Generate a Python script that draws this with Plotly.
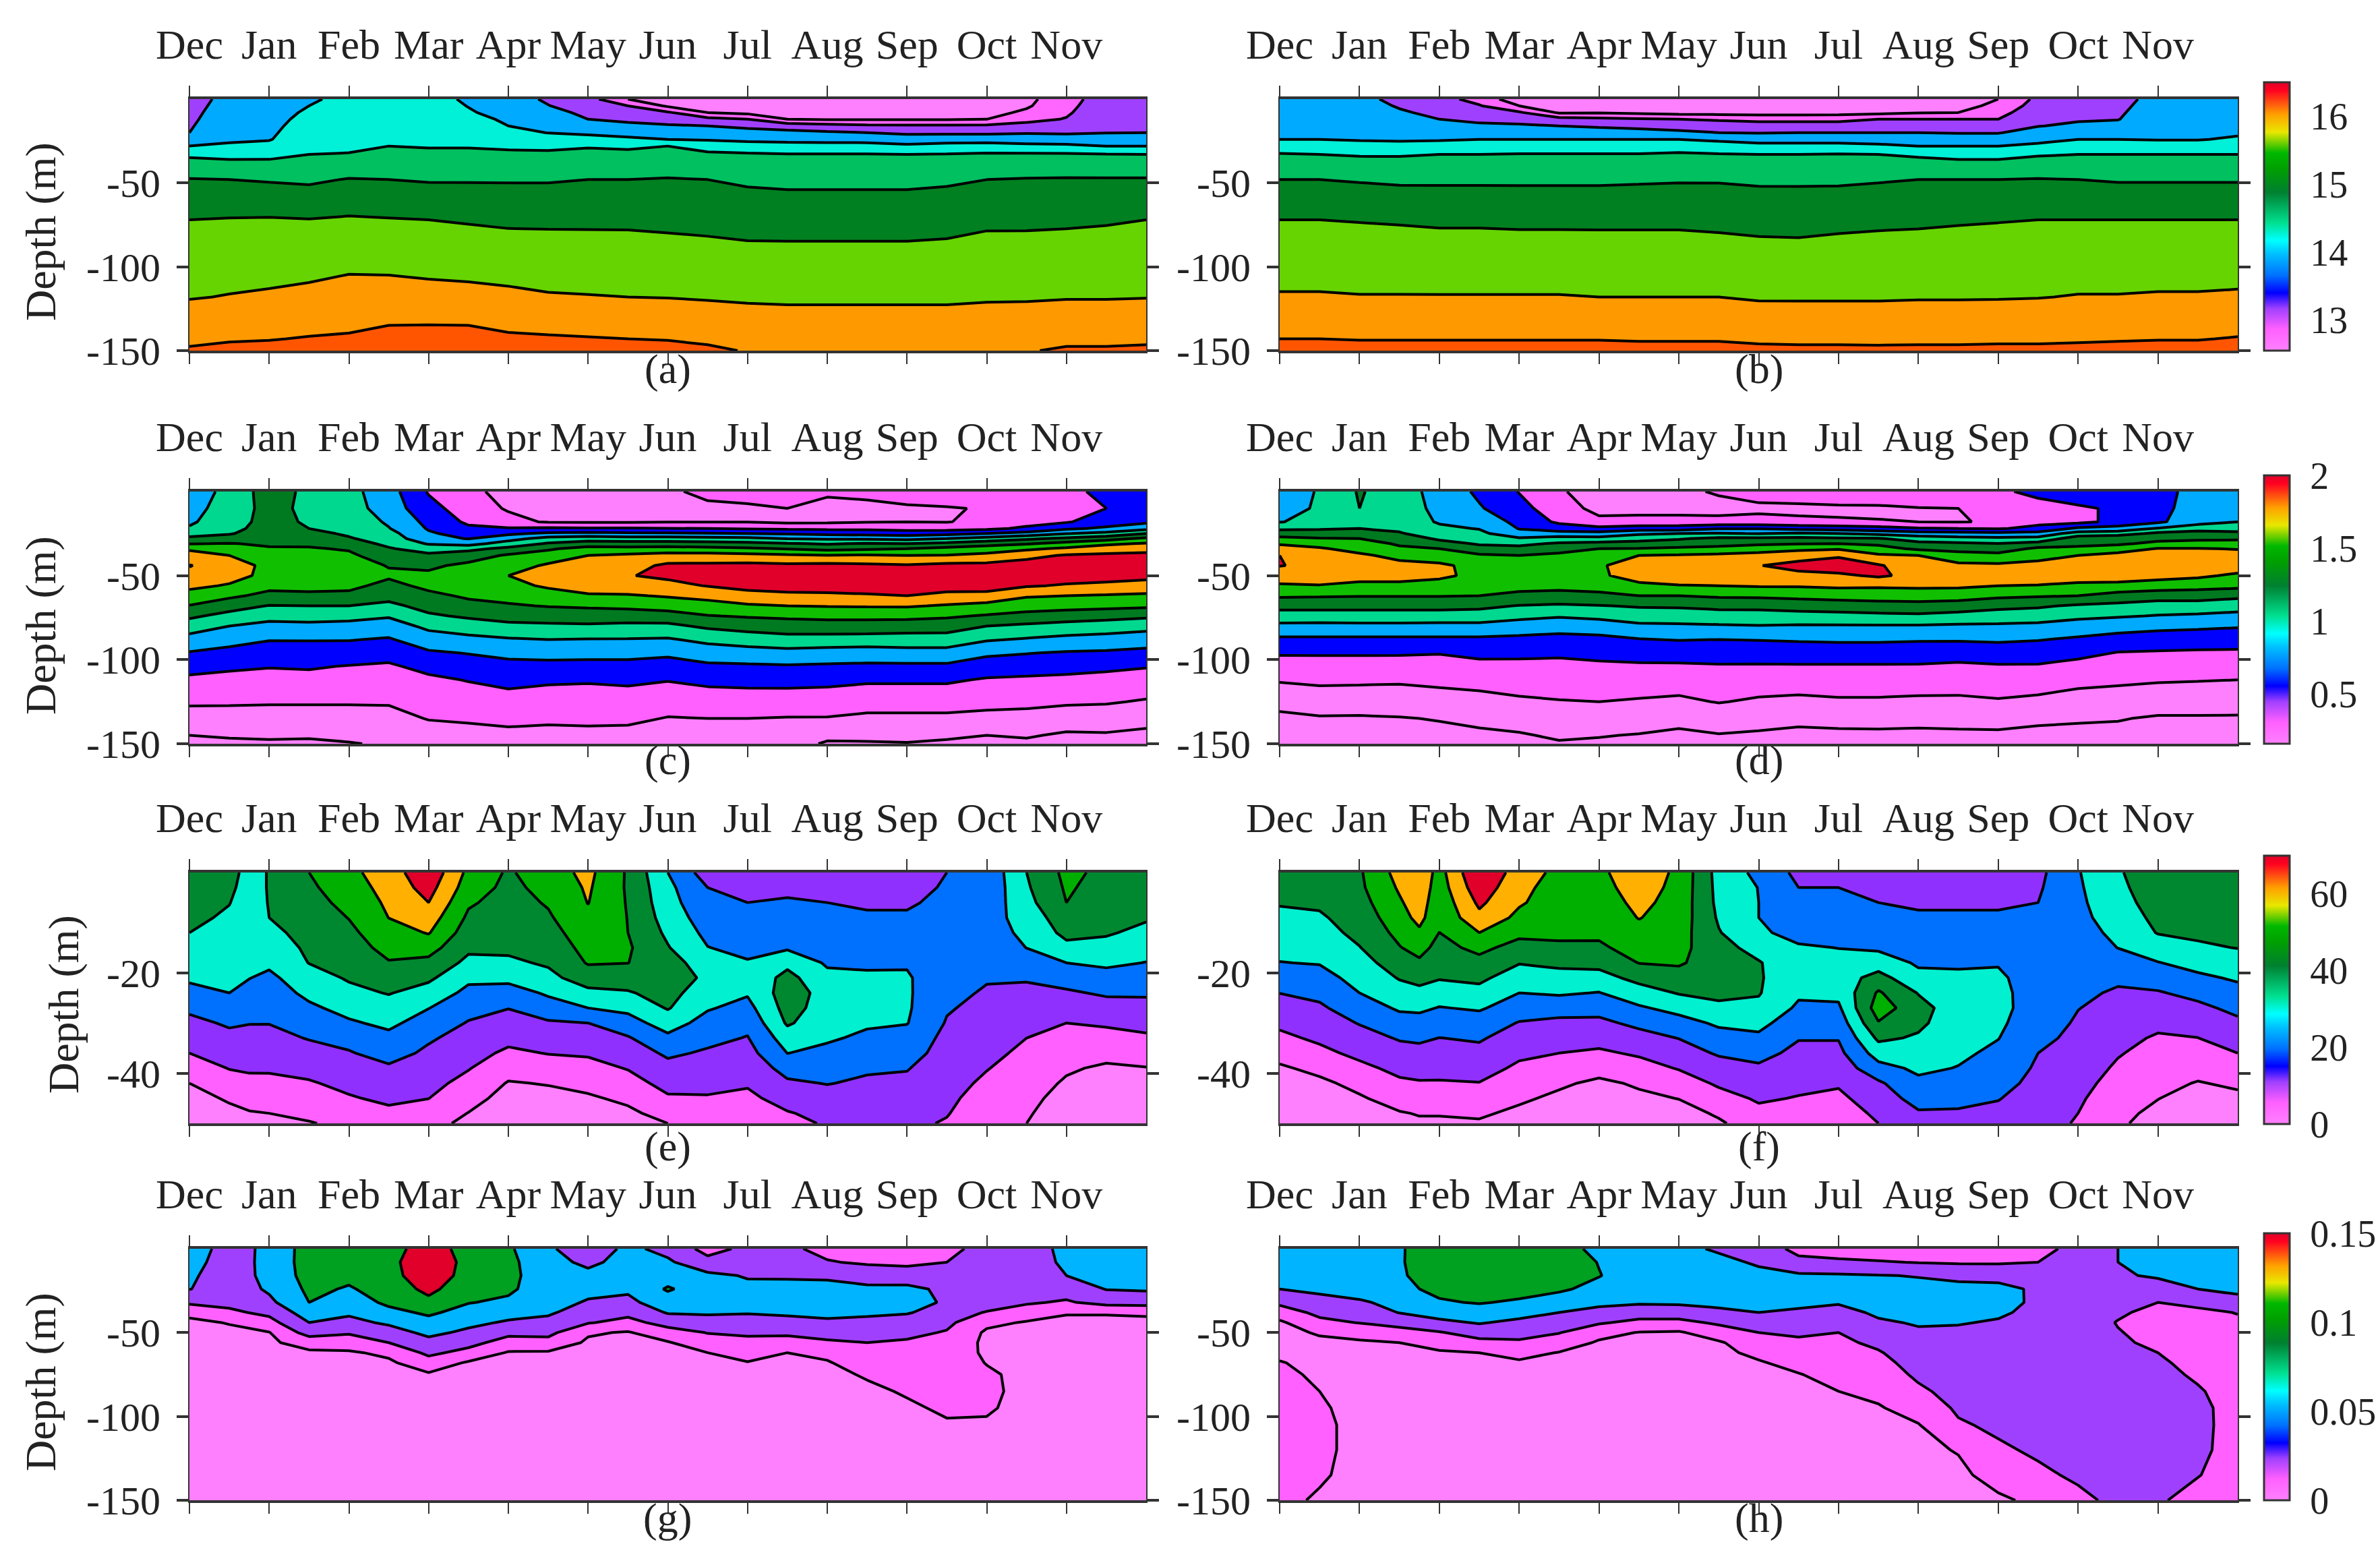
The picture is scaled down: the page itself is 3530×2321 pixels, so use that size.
import numpy as np
import plotly.graph_objects as go

W, H = 3530, 2321
MONTHS = ["Dec", "Jan", "Feb", "Mar", "Apr", "May", "Jun", "Jul", "Aug", "Sep", "Oct", "Nov"]
X_HALF = [0, .5, 1, 1.5, 2, 2.5, 3, 3.5, 4, 4.5, 5, 5.5, 6, 6.5, 7, 7.5, 8, 8.5, 9, 9.5, 10, 10.5, 11, 11.5, 12]
X_E = [0, .5, .75, 1, 1.5, 2, 2.5, 3, 3.5, 4, 4.5, 5, 5.5, 6, 6.5, 7, 7.5, 8, 8.5, 9, 9.5, 10, 10.5, 11, 11.5, 12]
X_F = [0, .5, 1, 1.5, 1.75, 2, 2.5, 3, 3.5, 4, 4.5, 5, 5.5, 6, 6.5, 7, 7.5, 8, 8.5, 9, 9.5, 10, 10.5, 11, 11.5, 12]

DEPTH_AB = [0, -4, -8, -12, -16, -20, -24, -28, -33, -48, -72, -118, -143, -150]
DEPTH_CD = [0, -10, -18, -22, -25, -28, -31, -34, -38, -44, -50, -56, -62, -68, -74, -80, -88, -96, -104, -112, -125, -135, -145, -150]
DEPTH_EF = [0, -3, -6, -9, -12, -15, -18, -21, -24, -27, -30, -33, -36, -39, -42, -45, -48, -50]
DEPTH_G = [0, -8, -16, -24, -32, -38, -44, -50, -56, -62, -68, -75, -85, -95, -105, -120, -150]
DEPTH_H = [0, -8, -16, -24, -32, -38, -44, -50, -56, -62, -68, -75, -85, -95, -105, -120, -135, -150]

# Panel (a): near-surface part by column, then deep rows
A_TOP = [
 [13.5,13.54,13.58,13.62,13.66,13.7,13.9,14.1,14.44],
 [13.85,13.89,13.93,13.96,14.0,14.03,14.07,14.13,14.4],
 [13.95,13.97,13.99,14.01,14.03,14.05,14.08,14.19,14.41],
 [14.05,14.1,14.14,14.18,14.22,14.27,14.32,14.38,14.5],
 [14.2,14.22,14.24,14.26,14.29,14.33,14.37,14.42,14.52],
 [14.25,14.27,14.29,14.32,14.35,14.39,14.44,14.5,14.62],
 [14.22,14.24,14.27,14.3,14.33,14.37,14.42,14.47,14.6],
 [14.05,14.09,14.13,14.2,14.27,14.34,14.41,14.47,14.6],
 [13.85,13.92,13.99,14.05,14.1,14.22,14.33,14.44,14.57],
 [13.65,13.71,13.81,13.9,13.99,14.09,14.25,14.42,14.57],
 [13.45,13.53,13.62,13.7,13.87,14.03,14.24,14.47,14.6],
 [12.9,13.3,13.46,13.62,13.79,13.97,14.17,14.43,14.6],
 [12.6,12.84,13.35,13.55,13.74,13.92,14.1,14.5,14.62],
 [12.5,12.7,12.9,13.43,13.7,13.88,14.06,14.34,14.57],
 [12.45,12.63,12.8,13.3,13.62,13.84,14.02,14.26,14.55],
 [12.4,12.57,12.73,12.9,13.54,13.8,14.0,14.23,14.52],
 [12.4,12.56,12.72,12.86,13.46,13.75,13.98,14.23,14.52],
 [12.4,12.55,12.71,12.86,13.38,13.7,13.97,14.23,14.52],
 [12.4,12.55,12.71,12.86,13.37,13.63,13.9,14.17,14.5],
 [12.45,12.6,12.74,12.87,13.37,13.63,13.94,14.23,14.52],
 [12.5,12.63,12.77,12.9,13.37,13.63,13.94,14.26,14.55],
 [12.8,12.85,12.97,13.2,13.41,13.67,13.9,14.2,14.55],
 [13.15,13.2,13.25,13.32,13.45,13.65,13.9,14.17,14.55],
 [13.5,13.53,13.57,13.61,13.65,13.69,13.9,14.1,14.52],
 [13.55,13.58,13.61,13.64,13.67,13.7,13.9,14.1,14.5],
]
A_48 = [14.92,14.90,14.87,14.84,14.92,14.90,14.87,14.87,14.87,14.87,14.90,14.90,14.92,14.90,14.84,14.81,14.81,14.81,14.81,14.84,14.90,14.92,14.93,14.93,14.93]
A_72 = [15.30,15.32,15.33,15.31,15.34,15.32,15.30,15.27,15.24,15.24,15.24,15.24,15.22,15.20,15.17,15.17,15.17,15.17,15.17,15.19,15.24,15.24,15.25,15.27,15.30]
A_118 = [15.68,15.715,15.745,15.79,15.85,15.85,15.82,15.805,15.775,15.73,15.715,15.70,15.69,15.67,15.65,15.64,15.64,15.64,15.64,15.64,15.66,15.665,15.68,15.68,15.69]
A_143 = [16.03,16.07,16.085,16.12,16.14,16.22,16.24,16.24,16.16,16.14,16.12,16.10,16.085,16.04,15.98,15.965,15.965,15.965,15.965,15.965,15.98,15.98,16.03,16.03,16.04]
A_150 = [16.14,16.18,16.2,16.24,16.26,16.34,16.36,16.36,16.28,16.26,16.24,16.22,16.2,16.16,16.08,16.07,16.07,16.07,16.07,16.07,16.08,16.08,16.14,16.14,16.16]

# Panel (b)
B_TOP = [
 [13.85,13.89,13.93,13.97,14.01,14.05,14.1,14.3,14.53],
 [13.85,13.89,13.93,13.97,14.01,14.05,14.1,14.3,14.5],
 [13.8,13.84,13.88,13.92,13.96,14.0,14.06,14.28,14.47],
 [13.6,13.67,13.74,13.8,13.87,13.94,14.05,14.22,14.47],
 [13.45,13.53,13.62,13.7,13.8,13.9,14.06,14.28,14.5],
 [13.15,13.33,13.46,13.6,13.78,13.9,14.1,14.3,14.5],
 [12.65,12.9,13.35,13.57,13.75,13.92,14.1,14.3,14.52],
 [12.55,12.7,12.85,13.45,13.7,13.9,14.1,14.3,14.52],
 [12.5,12.7,12.87,13.4,13.65,13.87,14.1,14.3,14.52],
 [12.5,12.65,12.82,13.35,13.6,13.83,14.1,14.3,14.52],
 [12.45,12.6,12.76,13.3,13.53,13.78,14.1,14.33,14.55],
 [12.45,12.6,12.75,13.25,13.5,13.7,14.03,14.27,14.52],
 [12.4,12.55,12.72,13.2,13.47,13.68,13.97,14.2,14.5],
 [12.4,12.55,12.72,13.2,13.47,13.7,13.97,14.2,14.5],
 [12.4,12.57,12.75,13.2,13.47,13.7,13.97,14.2,14.52],
 [12.45,12.62,12.8,13.3,13.5,13.7,13.93,14.17,14.5],
 [12.5,12.68,12.87,13.3,13.5,13.7,13.9,14.1,14.45],
 [12.55,12.72,12.9,13.3,13.48,13.68,13.9,14.1,14.4],
 [12.9,13.03,13.17,13.3,13.48,13.68,13.9,14.1,14.4],
 [13.4,13.47,13.55,13.62,13.69,13.85,14.0,14.17,14.47],
 [13.45,13.52,13.59,13.67,13.75,13.92,14.1,14.28,14.5],
 [13.6,13.63,13.66,13.69,13.78,13.9,14.1,14.28,14.5],
 [13.8,13.83,13.86,13.89,13.92,13.97,14.08,14.26,14.5],
 [13.85,13.87,13.9,13.93,13.96,14.0,14.08,14.26,14.5],
 [13.9,13.93,13.96,13.99,14.02,14.05,14.15,14.3,14.5],
]
B_48 = [14.9,14.9,14.87,14.84,14.84,14.84,14.84,14.84,14.84,14.855,14.87,14.87,14.84,14.84,14.84,14.87,14.9,14.9,14.9,14.92,14.9,14.87,14.87,14.87,14.87]
B_72 = [15.3,15.3,15.285,15.27,15.25,15.25,15.24,15.24,15.24,15.24,15.24,15.22,15.2,15.19,15.22,15.24,15.25,15.27,15.285,15.3,15.3,15.3,15.3,15.3,15.3]
B_118 = [15.73,15.73,15.715,15.715,15.715,15.715,15.715,15.715,15.7,15.7,15.7,15.7,15.665,15.665,15.665,15.665,15.675,15.675,15.68,15.69,15.715,15.715,15.73,15.73,15.745]
B_143 = [16.1,16.1,16.085,16.085,16.085,16.085,16.085,16.085,16.085,16.07,16.07,16.07,16.04,16.03,16.03,16.025,16.03,16.03,16.04,16.04,16.055,16.07,16.085,16.085,16.12]
B_150 = [16.24,16.24,16.225,16.225,16.225,16.225,16.225,16.225,16.225,16.21,16.21,16.21,16.18,16.17,16.17,16.165,16.17,16.17,16.18,16.18,16.195,16.21,16.225,16.225,16.26]

PANEL_C = [
 [.85,.9,.95,1.0,1.12,1.25,1.41,1.61,1.72,1.87,1.8,1.69,1.56,1.41,1.24,1.09,.9,.745,.61,.5,.35,.23,.1,.04],
 [1.05,1.08,1.1,1.13,1.18,1.3,1.43,1.52,1.64,1.75,1.72,1.62,1.46,1.29,1.13,.98,.83,.7,.58,.47,.35,.22,.12,.06],
 [1.3,1.27,1.28,1.3,1.33,1.36,1.39,1.44,1.5,1.58,1.58,1.48,1.36,1.19,1.05,.92,.77,.66,.55,.47,.34,.23,.13,.07],
 [1.15,1.15,1.17,1.2,1.26,1.32,1.38,1.44,1.48,1.52,1.53,1.48,1.38,1.2,1.06,.93,.77,.67,.56,.48,.34,.23,.12,.07],
 [1.05,1.08,1.12,1.14,1.17,1.22,1.3,1.4,1.46,1.5,1.5,1.47,1.37,1.2,1.06,.9,.77,.66,.53,.47,.34,.23,.14,.09],
 [.85,.87,.95,.99,1.05,1.1,1.15,1.22,1.3,1.41,1.45,1.36,1.27,1.15,1.0,.88,.74,.62,.51,.44,.34,.25,.16,.12],
 [.52,.62,.7,.74,.79,.83,.96,1.1,1.25,1.38,1.46,1.47,1.37,1.27,1.17,1.03,.88,.73,.6,.5,.42,.33,.22,.17],
 [.35,.42,.5,.58,.67,.75,.9,1.15,1.31,1.47,1.56,1.54,1.45,1.36,1.23,1.1,.92,.77,.65,.55,.43,.35,.24,.2],
 [.28,.3,.38,.56,.72,.9,1.08,1.25,1.45,1.54,1.64,1.58,1.48,1.4,1.28,1.15,.96,.82,.69,.59,.47,.37,.27,.23],
 [.24,.25,.3,.58,.8,1.06,1.22,1.39,1.52,1.67,1.75,1.67,1.55,1.43,1.3,1.16,.98,.83,.7,.57,.44,.35,.27,.23],
 [.22,.23,.3,.56,.82,1.1,1.3,1.5,1.64,1.72,1.8,1.72,1.62,1.45,1.31,1.17,.97,.82,.7,.56,.44,.36,.27,.23],
 [.2,.22,.3,.56,.8,1.08,1.3,1.48,1.68,1.78,1.85,1.76,1.62,1.47,1.31,1.15,.97,.82,.7,.58,.44,.36,.26,.22],
 [.28,.25,.31,.55,.8,1.07,1.3,1.5,1.72,1.9,1.9,1.8,1.66,1.51,1.33,1.15,.96,.8,.67,.55,.41,.31,.25,.21],
 [.38,.27,.31,.54,.78,1.06,1.28,1.48,1.73,1.9,1.95,1.87,1.71,1.55,1.41,1.24,1.03,.87,.72,.59,.43,.32,.24,.2],
 [.45,.27,.31,.52,.76,1.04,1.26,1.45,1.7,1.92,2.0,1.93,1.78,1.61,1.44,1.29,1.08,.89,.73,.6,.44,.32,.24,.2],
 [.5,.32,.28,.5,.74,.97,1.22,1.41,1.67,1.9,2.0,1.95,1.81,1.64,1.46,1.32,1.12,.91,.74,.61,.43,.31,.21,.17],
 [.35,.26,.29,.49,.71,.95,1.18,1.35,1.65,1.92,2.02,1.95,1.82,1.65,1.47,1.34,1.11,.89,.73,.6,.42,.31,.14,.08],
 [.38,.26,.31,.49,.68,.95,1.22,1.39,1.66,1.9,2.0,1.95,1.84,1.66,1.47,1.34,1.1,.88,.72,.57,.4,.28,.15,.08],
 [.46,.28,.32,.46,.66,.92,1.2,1.42,1.64,1.88,1.98,1.93,1.86,1.66,1.48,1.31,1.1,.9,.72,.57,.4,.28,.15,.09],
 [.5,.3,.31,.45,.7,.98,1.26,1.48,1.65,1.92,2.0,1.97,1.79,1.62,1.45,1.3,1.1,.9,.72,.57,.4,.28,.13,.07],
 [.5,.34,.38,.49,.76,1.07,1.34,1.52,1.7,1.92,2.0,1.98,1.77,1.58,1.4,1.2,1.0,.8,.65,.52,.38,.26,.1,.05],
 [.45,.44,.46,.58,.84,1.16,1.4,1.6,1.8,1.95,2.0,1.88,1.66,1.52,1.35,1.16,.96,.77,.62,.51,.37,.25,.12,.06],
 [.5,.5,.52,.72,.97,1.25,1.49,1.68,1.88,1.95,1.95,1.84,1.64,1.5,1.31,1.12,.92,.74,.6,.5,.35,.21,.07,.03],
 [.58,.54,.65,.8,1.05,1.33,1.6,1.75,1.9,1.95,1.93,1.82,1.62,1.48,1.28,1.09,.9,.73,.58,.48,.34,.2,.08,.03],
 [.62,.65,.72,.92,1.2,1.47,1.66,1.78,1.92,1.95,1.92,1.78,1.6,1.46,1.24,1.05,.87,.7,.55,.47,.3,.17,.05,.02],
]

PANEL_D = [
 [.85,.92,.97,1.16,1.32,1.47,1.62,1.72,1.86,1.87,1.72,1.62,1.45,1.27,1.1,.93,.72,.56,.45,.34,.17,.05,.02,.01],
 [1.0,1.0,1.05,1.18,1.28,1.44,1.58,1.66,1.74,1.8,1.75,1.63,1.44,1.27,1.1,.92,.72,.56,.46,.36,.21,.08,.03,.02],
 [1.22,1.2,1.16,1.2,1.3,1.42,1.52,1.58,1.67,1.74,1.7,1.6,1.43,1.27,1.1,.93,.72,.56,.46,.36,.19,.08,.03,.02],
 [1.08,1.08,1.1,1.16,1.22,1.31,1.39,1.46,1.59,1.69,1.7,1.6,1.43,1.27,1.1,.93,.72,.56,.45,.35,.2,.09,.03,.02],
 [.9,.93,.96,1.02,1.08,1.17,1.27,1.42,1.52,1.68,1.67,1.58,1.43,1.27,1.1,.92,.72,.55,.45,.37,.23,.11,.05,.03],
 [.72,.78,.9,.97,1.03,1.1,1.18,1.27,1.45,1.57,1.6,1.53,1.42,1.25,1.1,.92,.72,.59,.48,.38,.26,.15,.06,.03],
 [.53,.62,.7,.75,.84,1.01,1.15,1.27,1.42,1.5,1.54,1.5,1.36,1.19,1.04,.88,.71,.58,.49,.41,.29,.19,.08,.04],
 [.33,.4,.5,.65,.85,1.07,1.23,1.33,1.47,1.56,1.58,1.49,1.34,1.17,1.0,.85,.69,.57,.49,.42,.31,.21,.13,.08],
 [.28,.27,.36,.6,.85,1.05,1.27,1.42,1.5,1.62,1.61,1.52,1.36,1.19,1.03,.88,.7,.6,.5,.42,.32,.22,.11,.07],
 [.27,.26,.38,.65,.95,1.1,1.3,1.43,1.64,1.72,1.72,1.6,1.42,1.22,1.08,.94,.75,.62,.51,.43,.3,.2,.09,.05],
 [.28,.26,.38,.66,.98,1.18,1.31,1.46,1.66,1.74,1.76,1.63,1.42,1.23,1.08,.95,.77,.63,.51,.42,.28,.16,.06,.03],
 [.34,.26,.37,.75,1.0,1.25,1.33,1.5,1.68,1.78,1.78,1.64,1.45,1.26,1.1,.96,.76,.64,.52,.44,.33,.2,.09,.05],
 [.4,.28,.38,.75,.97,1.25,1.38,1.56,1.7,1.85,1.82,1.66,1.46,1.26,1.11,.97,.77,.63,.52,.43,.29,.18,.07,.04],
 [.45,.27,.36,.7,1.02,1.26,1.41,1.6,1.74,1.95,1.79,1.66,1.48,1.29,1.12,.96,.78,.65,.52,.43,.27,.14,.06,.03],
 [.48,.28,.34,.67,.98,1.24,1.42,1.62,1.83,1.98,1.82,1.68,1.5,1.31,1.13,.96,.79,.65,.52,.44,.29,.16,.06,.03],
 [.5,.28,.33,.62,.92,1.22,1.38,1.5,1.67,1.88,1.89,1.67,1.52,1.33,1.15,.96,.79,.65,.52,.44,.29,.15,.07,.03],
 [.52,.31,.32,.56,.87,1.1,1.26,1.38,1.64,1.74,1.8,1.68,1.53,1.34,1.16,.96,.78,.64,.52,.45,.27,.14,.07,.03],
 [.52,.32,.31,.54,.85,1.05,1.24,1.33,1.53,1.68,1.76,1.68,1.5,1.33,1.12,.95,.78,.63,.5,.44,.27,.15,.07,.03],
 [.5,.33,.34,.52,.82,1.03,1.21,1.32,1.48,1.68,1.72,1.64,1.46,1.27,1.08,.95,.79,.65,.52,.44,.3,.16,.07,.03],
 [.6,.45,.48,.6,.84,1.05,1.28,1.46,1.57,1.7,1.75,1.63,1.44,1.23,1.08,.93,.77,.64,.52,.43,.27,.13,.06,.03],
 [.7,.5,.48,.8,1.08,1.32,1.36,1.47,1.64,1.73,1.77,1.58,1.42,1.17,1.03,.88,.73,.6,.47,.38,.23,.12,.05,.03],
 [.7,.58,.6,.85,1.1,1.37,1.38,1.55,1.7,1.8,1.8,1.55,1.35,1.14,1.0,.85,.68,.53,.44,.36,.21,.11,.05,.03],
 [.72,.72,.72,1.0,1.25,1.35,1.48,1.65,1.73,1.8,1.72,1.53,1.3,1.1,.97,.82,.65,.52,.42,.34,.19,.08,.03,.02],
 [.8,.82,.9,1.1,1.3,1.38,1.5,1.65,1.75,1.8,1.68,1.5,1.3,1.1,.95,.8,.64,.51,.42,.33,.19,.08,.03,.02],
 [.92,.94,.98,1.15,1.23,1.38,1.53,1.63,1.72,1.76,1.6,1.48,1.25,1.07,.92,.78,.62,.51,.41,.32,.18,.08,.03,.02],
]

PANEL_E = [
 [46,45,43,41.5,40,37.5,35,33,30,25.5,22,19,16,12,8,5,3,2],
 [43,41.5,40.2,39,37.5,36,35,33.5,32,28.5,25,22,19,16.3,12.7,9,6,4.5],
 [37,37,37,36,35.5,34.5,33.5,32.2,29.5,26.8,24.2,22,19.5,17,14,10.5,7.5,6],
 [40.5,40.5,40.3,40,38,36,33.5,30.3,28,26,24.2,21.8,19.5,17.3,13.5,10,8,6],
 [48,46.7,45.5,44,42.7,41.3,40.2,36.7,33.9,30.6,27.6,24.4,21.3,18.3,15.3,12.4,9.4,7.6],
 [54,52,50,48.2,46.4,44.5,42.8,40.8,38,34.5,31,26.5,23.4,20.4,18,15.3,11.8,9.6],
 [60,59,57.5,56.1,52.5,50.4,47.5,44,40.4,37,33.7,30,27,22.8,20,17.5,14.3,12],
 [70,67,64,60,56.5,51,46,41.4,36.8,32.2,28.5,25,22.5,20.5,18.3,16.1,12.5,10.5],
 [54,52,49,46.6,44,41.5,38,33.6,30,26.5,23.5,21,18.8,16.4,13.6,11,7.8,6.2],
 [47,46,45,44,43,41.5,38.6,34,28.7,24.2,21,18,14.6,11,7.5,5,3,2],
 [52.5,50.5,48.7,47,45,43,41,37.8,33,28.8,23,19.5,16.3,12.4,8.4,5.8,3.5,2.5],
 [58,57,56.2,54.5,52.6,50.6,48.6,44,38,32,24,20.5,16.9,13.5,10.2,7,4.5,3],
 [47,47,47.4,47.8,48,49,48.1,43.8,39.3,33.9,28.8,23.3,19.9,16.4,13,9.5,6.5,5],
 [32,34,35,36.5,38.5,40.5,44,48,43,40.6,35.6,30.2,25.3,21.6,18.5,15,10.7,8],
 [20,24,26,28,30,32.2,35,37,35,32.7,29,26,23,20.5,18,15.4,12.5,10],
 [20,22,24,26,28,30,32.6,34,32.8,29.5,26,23.6,21.2,19,16.8,14.4,12,10],
 [20,22,25,27,29,31,38,42.5,44,43,41,36,32.1,26.8,22.8,18.8,15.5,14],
 [20,22,24,26,28,29.5,31,34,37,36.5,35,33,30,27,24.3,21,18,16.7],
 [20,21.5,23,25,27,28.5,30.5,33.5,35,34.5,33,30.5,27.5,25,22.8,21,19,18],
 [20,21,23,25,27,29,31.3,32.8,33,33,32.3,29,27,24.4,22.5,20.5,18.5,17.5],
 [24,25,26,27,28,28.5,28,27,26,24.7,23.4,22,21,19.8,18.6,17.5,16.4,15.4],
 [26,26,27,28,28,27,25.8,24.6,23.2,21.8,20.5,19,17.7,16.3,14.7,13,11.5,10.5],
 [40,39,37.5,36,34,32.1,28.5,24.8,22,19.8,18,16,14.6,13,11.7,10.3,9,8],
 [50,49,48,44,42,38,32,27,23,20,16,13.6,11.4,9,7,5,3,2],
 [46,45,43.5,42,40.8,37.5,33.4,29.2,25,21,17,13.4,10.4,6.8,5,3,2,1],
 [44,43,42,40.8,38,35,31.8,28.3,25,21.5,18,15,11.7,7.7,5,3,2,1],
]

PANEL_F = [
 [45,43,40.5,38.4,36.2,34,31.8,27.9,24.1,20.8,17.6,14.2,10.6,7,4.5,3,2,1],
 [46,44,41.2,39,36.8,34.6,32.4,29.2,25.9,22.8,20.1,17.4,14,9.9,6.5,4.5,3,2],
 [47,46.5,45,43.6,42.2,39.7,37,34.6,32,28.2,24.4,21.1,17.9,14.1,10.1,7.2,5,4],
 [59,57,55,52.5,50,47.6,44,40.5,36.8,33,28.9,24.6,21.4,18,14.7,11,7.5,6],
 [62,61,60,58.5,54.5,50.6,46.7,42.3,37.9,33.6,28.8,25.2,21.8,18.6,15.4,12,8.4,7],
 [53,52,50.5,49.5,47.9,45.5,43,40.5,36.3,31.6,27.6,23.9,21,18.3,15.4,11.9,8.4,7],
 [72,69,65.5,62,56,50,45.6,41.7,37.5,33,28,24.8,22,19,15.8,12.4,9,7.2],
 [60,58,56.9,54,50,45,40.4,35.8,32,27.7,23.6,20.6,17.5,14.6,12,9.2,6.5,5],
 [54,53,52,51,49.5,46.7,41.7,37.2,33,27,22.3,19.1,16,12.6,9.2,6.5,4,3],
 [54,53,52,50.7,49.3,46.8,42.3,37.2,31.7,26.6,22.3,18.7,14.8,10.8,6.5,4.5,3,2],
 [62,60,58,56.3,53.6,51,48.2,42.3,36.5,31,25.8,21.2,17,13,9,6.5,4,3],
 [54,53.5,53,52.5,51.5,50.3,48.8,45.2,40.5,34.6,29,24.2,20.3,16.5,11.9,8.2,5,4],
 [37,37.5,38,39,40.5,43,44.5,44.5,42,38.2,33.3,28.9,24.9,20.6,17.2,13,9,7],
 [30,31.8,32,32,33,37,40.6,40.8,40.5,38.3,34.2,30.5,26.4,22.8,20,17,14,12],
 [22,24,26,28,30,32.7,34,34.5,33.2,30.7,27.5,24.4,22,20,17.8,15.6,13,11.5],
 [22,24,26,28,30,31.9,34,36,34,30.7,27.5,24.4,22,19.4,16.9,14.3,11.8,10],
 [20,22,24,26,28,30.8,36,43,49,52,47.5,41.5,35.5,29.3,22.8,20.3,17.6,16],
 [20,21,23,25,27,29,31,34,39.6,43,41.7,39,36.3,33.5,30.3,26.7,23.2,21.5],
 [20,21,23,25,27,29,31,33.3,35,35.5,35,34.5,33.5,31.7,28.9,26,23.1,21.5],
 [20,21,23,25,27,29,31.6,33,33.4,33.5,33.2,32.2,30.3,28.2,26.3,24.3,22.5,21.2],
 [22,23,24,25,26,27,28,29,29.5,29.5,28,26,24,23,22,21,20,19.4],
 [31.5,31,30.5,30,29,28,27,26,25.4,24.2,23,22,20.7,19.5,18.3,17.1,16,15.2],
 [39,38,37,35.5,33.8,32.1,28.7,25.2,23.1,21.5,19.8,18,16.5,15,13.4,11.7,10.2,9.2],
 [46,45,43.5,42,40.4,36,31.7,27.3,23.4,20.4,17.6,15.2,13.5,11.7,10,8.2,6,5],
 [45,44,43,42,41.3,38.9,34.7,30.5,26.1,22.3,19.2,15.9,13.2,10.4,7.6,5,3,2],
 [45,44,43,42,41.2,40.2,36.6,33,29.5,25.9,22.5,19.3,16,12.5,9.2,6.5,4,3],
]

PANEL_G = [
 [.08,.075,.07,.067,.044,.017,.008,.006,.005,.005,.005,.005,.004,.004,.004,.004,.003],
 [.055,.054,.053,.05,.046,.034,.013,.008,.006,.005,.005,.005,.004,.004,.004,.004,.003],
 [.072,.073,.073,.07,.06,.045,.03,.011,.008,.006,.005,.005,.004,.004,.004,.004,.003],
 [.105,.105,.103,.098,.093,.08,.066,.05,.022,.008,.006,.005,.004,.004,.004,.004,.003],
 [.105,.103,.098,.091,.08,.07,.059,.042,.024,.009,.006,.005,.004,.004,.004,.004,.003],
 [.108,.108,.106,.102,.098,.086,.07,.055,.039,.017,.008,.006,.004,.004,.004,.004,.003],
 [.135,.15,.145,.128,.112,.097,.085,.072,.058,.045,.027,.009,.006,.005,.004,.004,.003],
 [.108,.107,.105,.1,.094,.084,.072,.061,.048,.03,.009,.006,.005,.004,.004,.004,.003],
 [.097,.1,.1,.097,.089,.075,.063,.046,.027,.01,.007,.005,.004,.004,.004,.004,.003],
 [.07,.074,.078,.08,.078,.07,.058,.046,.03,.009,.007,.005,.004,.004,.004,.004,.003],
 [.05,.061,.072,.075,.063,.052,.041,.015,.008,.006,.005,.005,.004,.004,.004,.004,.003],
 [.072,.074,.074,.07,.06,.047,.03,.01,.007,.006,.005,.005,.004,.004,.004,.004,.003],
 [.058,.07,.08,.096,.08,.068,.05,.027,.01,.007,.005,.005,.004,.004,.004,.004,.003],
 [.03,.047,.072,.078,.076,.069,.056,.04,.028,.012,.008,.006,.005,.004,.004,.004,.003],
 [.045,.055,.064,.072,.072,.068,.054,.043,.032,.02,.011,.007,.005,.004,.004,.004,.003],
 [.045,.055,.063,.074,.076,.07,.058,.044,.028,.012,.008,.006,.005,.004,.004,.004,.003],
 [.03,.041,.062,.074,.077,.072,.062,.049,.035,.018,.01,.007,.005,.005,.004,.004,.003],
 [.03,.035,.057,.07,.075,.07,.06,.05,.039,.032,.025,.014,.008,.006,.005,.004,.003],
 [.03,.034,.05,.073,.075,.068,.055,.045,.036,.032,.027,.022,.014,.009,.006,.004,.003],
 [.032,.039,.05,.06,.063,.055,.045,.037,.032,.03,.027,.024,.02,.015,.01,.006,.003],
 [.048,.05,.055,.058,.055,.037,.018,.008,.006,.007,.011,.016,.018,.015,.009,.006,.003],
 [.055,.055,.055,.05,.042,.026,.01,.007,.006,.006,.005,.005,.004,.004,.004,.004,.003],
 [.072,.07,.066,.051,.036,.013,.009,.007,.006,.005,.005,.005,.004,.004,.004,.004,.003],
 [.075,.073,.071,.067,.048,.013,.009,.007,.006,.005,.005,.005,.004,.004,.004,.004,.003],
 [.075,.073,.071,.069,.05,.014,.009,.007,.006,.005,.005,.005,.004,.004,.004,.004,.003],
]

PANEL_H = [
 [.075,.073,.07,.066,.045,.025,.008,.006,.006,.008,.013,.016,.018,.019,.02,.02,.018,.016],
 [.078,.077,.075,.071,.058,.046,.032,.014,.008,.006,.007,.009,.012,.014,.015,.015,.014,.01],
 [.088,.088,.086,.08,.062,.05,.04,.02,.009,.007,.006,.006,.006,.007,.008,.008,.007,.006],
 [.091,.091,.09,.086,.075,.067,.047,.03,.012,.008,.006,.006,.006,.006,.006,.006,.005,.005],
 [.105,.106,.105,.1,.09,.077,.06,.037,.022,.009,.007,.006,.006,.006,.006,.006,.005,.005],
 [.108,.11,.11,.104,.095,.08,.068,.051,.031,.012,.008,.007,.006,.006,.006,.006,.005,.005],
 [.108,.11,.11,.104,.089,.076,.06,.048,.035,.019,.009,.008,.006,.006,.006,.006,.005,.005],
 [.105,.108,.106,.097,.08,.066,.053,.04,.026,.011,.008,.007,.006,.006,.006,.006,.005,.005],
 [.085,.092,.094,.085,.072,.058,.042,.02,.009,.007,.006,.006,.006,.006,.006,.006,.005,.005],
 [.075,.078,.08,.078,.069,.052,.032,.011,.008,.007,.006,.006,.006,.006,.006,.006,.005,.005],
 [.07,.075,.078,.076,.07,.052,.032,.009,.007,.006,.006,.006,.006,.006,.006,.006,.005,.005],
 [.064,.07,.073,.074,.072,.061,.043,.026,.009,.007,.006,.006,.006,.006,.006,.006,.005,.005],
 [.055,.064,.07,.073,.072,.066,.053,.039,.028,.017,.01,.008,.007,.006,.006,.006,.005,.005],
 [.031,.046,.07,.074,.072,.062,.052,.043,.034,.026,.019,.011,.008,.007,.006,.006,.005,.005],
 [.025,.044,.069,.073,.068,.058,.049,.039,.034,.03,.025,.02,.012,.009,.007,.006,.005,.005],
 [.022,.041,.067,.074,.074,.07,.063,.053,.044,.037,.032,.027,.018,.01,.008,.006,.005,.005],
 [.022,.038,.065,.072,.075,.072,.068,.063,.057,.053,.048,.043,.035,.022,.011,.008,.006,.005],
 [.022,.036,.061,.072,.075,.073,.068,.06,.057,.055,.053,.05,.047,.043,.036,.013,.008,.006],
 [.02,.036,.058,.073,.077,.071,.063,.062,.06,.058,.056,.054,.05,.047,.044,.035,.019,.009],
 [.033,.039,.05,.062,.06,.057,.055,.054,.053,.052,.051,.05,.048,.047,.046,.043,.034,.016],
 [.045,.046,.048,.05,.05,.05,.05,.05,.05,.05,.05,.05,.05,.05,.05,.047,.043,.033],
 [.066,.066,.063,.055,.048,.042,.038,.04,.042,.045,.048,.05,.052,.053,.053,.052,.05,.045],
 [.075,.074,.069,.055,.039,.033,.032,.033,.035,.039,.042,.045,.048,.05,.05,.05,.047,.042],
 [.08,.078,.075,.066,.046,.033,.031,.03,.03,.031,.033,.036,.041,.044,.045,.044,.04,.03],
 [.085,.083,.08,.072,.057,.04,.035,.033,.032,.03,.03,.03,.03,.031,.03,.03,.028,.025],
]

# Contour levels (start, end, step) and the fill colour of each band
LEVELS_AB = (12.9, 16.1, 0.4)
LEVELS_CD = (0.1, 1.86, 0.22)
LEVELS_EF = (8, 64, 8)
LEVELS_GH = (0.012, 0.12, 0.027)
BANDS_AB = ["#ff80ff", "#ff66ff", "#a040ff", "#00aaff", "#00f0d8", "#00c060", "#008020", "#66d400", "#ff9900", "#ff5500"]
BANDS_CD = ["#ff80ff", "#ff80ff", "#ff60ff", "#0000ff", "#00aaff", "#00d890", "#007a20", "#10c000", "#ffa000", "#e0002a"]
BANDS_EF = ["#ff80ff", "#ff60ff", "#9030ff", "#0070ff", "#00f0d0", "#008830", "#00b000", "#ffb000", "#e0002a"]
BANDS_GH = ["#ff80ff", "#ff60ff", "#a040ff", "#00b4ff", "#00a020", "#e0002a"]

CBAR_POS = [0, .08, .157, .215, .28, .36, .41, .476, .59, .68, .737, .814, .88, .97, 1]
CBAR_COL = ["#ff80ff", "#ff60ff", "#a040ff", "#0000ff", "#0070ff", "#00c0ff", "#00ffff", "#00e090",
            "#008030", "#00a000", "#00b800", "#e8e800", "#ffa000", "#ff0020", "#e0002a"]
CBAR_SCALE = [[p, c] for p, c in zip(CBAR_POS, CBAR_COL)]

FONT = "Liberation Serif"
TEXT = "#222222"
LINE = "#333333"

A_COLS = np.array(A_TOP).T
PANEL_A = np.vstack([A_COLS, A_48, A_72, A_118, A_143, A_150])
B_COLS = np.array(B_TOP).T
PANEL_B = np.vstack([B_COLS, B_48, B_72, B_118, B_143, B_150])

panels = [
    ("a", X_HALF, DEPTH_AB, PANEL_A, LEVELS_AB, BANDS_AB, [-50, -100, -150], 0, 0, 27),
    ("b", X_HALF, DEPTH_AB, PANEL_B, LEVELS_AB, BANDS_AB, [-50, -100, -150], 0, 1, 27),
    ("c", X_HALF, DEPTH_CD, np.array(PANEL_C).T, LEVELS_CD, BANDS_CD, [-50, -100, -150], 1, 0, 24),
    ("d", X_HALF, DEPTH_CD, np.array(PANEL_D).T, LEVELS_CD, BANDS_CD, [-50, -100, -150], 1, 1, 24),
    ("e", X_E, DEPTH_EF, np.array(PANEL_E).T, LEVELS_EF, BANDS_EF, [-20, -40], 2, 0, 34),
    ("f", X_F, DEPTH_EF, np.array(PANEL_F).T, LEVELS_EF, BANDS_EF, [-20, -40], 2, 1, 34),
    ("g", X_HALF, DEPTH_G, np.array(PANEL_G).T, LEVELS_GH, BANDS_GH, [-50, -100, -150], 3, 0, 26),
    ("h", X_HALF, DEPTH_H, np.array(PANEL_H).T, LEVELS_GH, BANDS_GH, [-50, -100, -150], 3, 1, 26),
]

COL_PX = [(281, 1700), (1898, 3319)]
ROW_PX = [(147, 520), (729, 1103), (1294, 1666), (1852, 2225)]
YTITLE_PX = [(60, 344), (60, 928), (94, 1490), (60, 2050)]
BAR_PX = [(122, 520), (705, 1103), (1269, 1667), (1829, 2225)]
BAR_RANGE = [(12.55, 16.5), (0.16, 2.0), (0, 70), (0, 0.15)]
BAR_TICKS = [([13, 14, 15, 16], ["13", "14", "15", "16"]),
             ([0.5, 1, 1.5, 2], ["0.5", "1", "1.5", "2"]),
             ([0, 20, 40, 60], ["0", "20", "40", "60"]),
             ([0, 0.05, 0.1, 0.15], ["0", "0.05", "0.1", "0.15"])]

fig = go.Figure()
layout = dict(width=W, height=H, margin=dict(l=0, r=0, t=0, b=0, autoexpand=False), paper_bgcolor="white",
              plot_bgcolor="white", showlegend=False, font=dict(family=FONT, size=60, color=TEXT))
annots = []
for i, (name, x, y, z, lev, bands, yticks, r, c, drop) in enumerate(panels):
    n = i + 1
    ax = "" if n == 1 else str(n)
    scale = [[k / (len(bands) - 1), col] for k, col in enumerate(bands)]
    fig.add_trace(go.Contour(
        x=x, y=y, z=np.asarray(z).tolist(), xaxis="x" + ax, yaxis="y" + ax,
        autocontour=False, contours=dict(start=lev[0], end=lev[1], size=lev[2], coloring="fill", showlines=True),
        line=dict(color="black", width=4, smoothing=0), colorscale=scale, showscale=False, hoverinfo="skip"))
    x0, x1 = COL_PX[c]
    y0, y1 = ROW_PX[r]
    layout["xaxis" + ax] = dict(
        domain=[x0 / W, x1 / W], range=[0, 12], anchor="y" + ax, side="top", tickmode="array",
        tickvals=list(range(12)), ticktext=MONTHS, ticks="outside", ticklen=16, tickwidth=2, tickcolor=LINE,
        showline=True, linewidth=4, linecolor=LINE, mirror="ticks", showgrid=False, zeroline=False,
        tickfont=dict(family=FONT, size=62, color=TEXT), ticklabelstandoff=15)
    layout["yaxis" + ax] = dict(
        domain=[1 - y1 / H, 1 - y0 / H], range=[y[-1], 0], anchor="x" + ax, tickmode="array",
        tickvals=yticks, ticktext=[str(t) for t in yticks], ticks="outside", ticklen=17, tickwidth=4,
        tickcolor=LINE, showline=True, linewidth=2, linecolor=LINE, mirror="ticks", showgrid=False,
        zeroline=False, tickfont=dict(family=FONT, size=60, color=TEXT), ticklabelstandoff=12)
    annots.append(dict(text="(%s)" % name, xref="paper", yref="paper", x=(x0 + x1) / 2 / W,
                       y=1 - (y1 + drop) / H, xanchor="center", yanchor="middle", showarrow=False,
                       font=dict(family=FONT, size=62, color=TEXT)))
    if c == 0:
        tx, ty = YTITLE_PX[r]
        annots.append(dict(text="Depth (m)", xref="paper", yref="paper", x=tx / W, y=1 - ty / H,
                           xanchor="center", yanchor="middle", textangle=-90, showarrow=False,
                           font=dict(family=FONT, size=64, color=TEXT)))

for r in range(4):
    top, bot = BAR_PX[r]
    lo, hi = BAR_RANGE[r]
    vals, texts = BAR_TICKS[r]
    fig.add_trace(go.Scatter(
        x=[None], y=[None], mode="markers", hoverinfo="skip", showlegend=False,
        marker=dict(color=[lo], cmin=lo, cmax=hi, colorscale=CBAR_SCALE, showscale=True,
                    colorbar=dict(x=3358 / W, xanchor="left", xpad=0, y=1 - bot / H, yanchor="bottom", ypad=0,
                                  len=(bot - top) / H, lenmode="fraction", thickness=38, thicknessmode="pixels",
                                  tickmode="array", tickvals=vals, ticktext=texts, ticks="outside", ticklen=18,
                                  tickcolor="rgba(0,0,0,0)", outlinecolor=LINE, outlinewidth=3, borderwidth=0,
                                  tickfont=dict(family=FONT, size=56, color=TEXT)))))

layout["annotations"] = annots
fig.update_layout(**layout)
fig.write_html("out.html", config={"displayModeBar": False},
               post_script="document.body.style.margin='0';document.documentElement.style.overflow='hidden';")
